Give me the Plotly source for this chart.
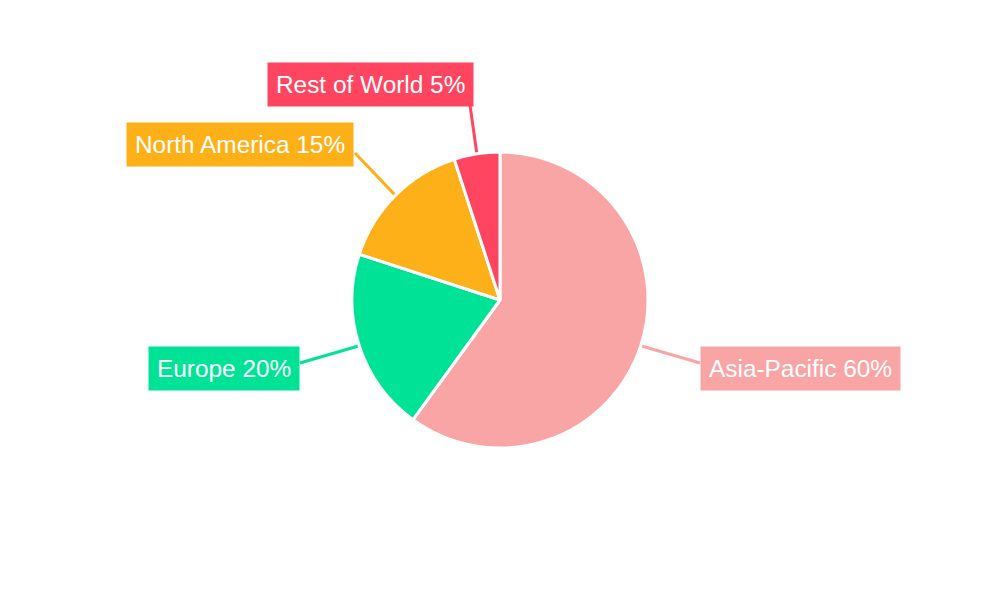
import math
import plotly.graph_objects as go

regions = ["Asia-Pacific", "Europe", "North America", "Rest of World"]
shares = [60, 20, 15, 5]
colors = ["#F9A4A5", "#00E396", "#FEB019", "#FF4560"]

W, H = 1000, 600
OFF = 8  # page body margin offset
CX, CY, R = 500 - OFF, 300 - OFF, 148

# label box anchors (page pixel positions) and leader end points — layout only
label_pos = [
    dict(x=700, y=368, xanchor="left"),
    dict(x=300, y=368, xanchor="right"),
    dict(x=354, y=144, xanchor="right"),
    dict(x=474, y=84, xanchor="right"),
]
line_end = [(700, 363), (300, 363), (355, 153), (470, 105)]


def px(x):
    return (x - OFF) / W


def py(y):
    return 1 - (y - OFF) / H


fig = go.Figure(go.Pie(
    labels=regions,
    values=shares,
    sort=False,
    direction="clockwise",
    rotation=0,
    marker=dict(colors=colors, line=dict(color="white", width=3)),
    textinfo="none",
    hoverinfo="label+percent",
    showlegend=False,
    domain=dict(x=[(CX - R) / W, (CX + R) / W], y=[1 - (CY + R) / H, 1 - (CY - R) / H]),
))

total = sum(shares)
cum = 0
shapes = []
annotations = []
for i, (name, v) in enumerate(zip(regions, shares)):
    theta = 2 * math.pi * (cum + v / 2) / total
    cum += v
    sx = CX + R * math.sin(theta)
    sy = CY - R * math.cos(theta)
    ex, ey = line_end[i]
    shapes.append(dict(type="line", xref="paper", yref="paper",
                       x0=sx / W, y0=1 - sy / H, x1=px(ex), y1=py(ey),
                       line=dict(color=colors[i], width=3), layer="below"))
    lp = label_pos[i]
    annotations.append(dict(
        text=f"{name} {v}%", xref="paper", yref="paper",
        x=px(lp["x"]), y=py(lp["y"]), xanchor=lp["xanchor"], yanchor="middle",
        showarrow=False, bgcolor=colors[i], borderpad=8,
        font=dict(family="Liberation Sans, Arial, sans-serif", size=24.4, color="white"),
    ))

fig.update_layout(
    width=W, height=H,
    margin=dict(l=0, r=0, t=0, b=0),
    paper_bgcolor="white", plot_bgcolor="white",
    shapes=shapes, annotations=annotations,
)

fig.write_html("out.html")
